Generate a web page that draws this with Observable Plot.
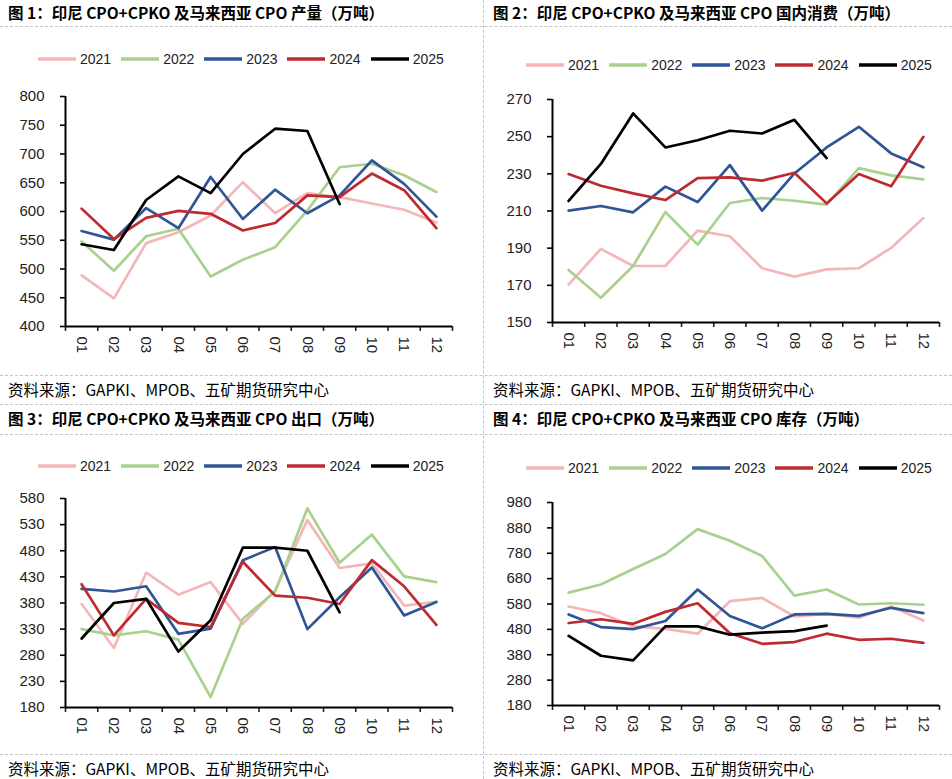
<!DOCTYPE html>
<html><head><meta charset="utf-8">
<script src="https://cdn.jsdelivr.net/npm/d3@7"></script>
<script src="https://cdn.jsdelivr.net/npm/@observablehq/plot@0.6"></script>
<style>
body{margin:0;background:#fff;}
#page{position:relative;width:952px;height:779px;overflow:hidden;font-family:"Liberation Sans",Arial,sans-serif;background:#fff;}
.hline{position:absolute;left:0;width:952px;border-top:1px dashed #c4c4c4;height:0;}
.vline{position:absolute;top:0;height:779px;border-left:1px dashed #c4c4c4;width:0;}
.title{position:absolute;font-family:"Noto Sans CJK SC";font-weight:700;font-size:15.5px;line-height:20px;white-space:nowrap;color:#000}
.source{position:absolute;font-family:"Noto Sans CJK SC";font-size:15.5px;line-height:20px;white-space:nowrap;color:#000}
.legend{position:absolute;display:flex;align-items:center;font-size:14px;line-height:20px;color:#222;white-space:nowrap}
.legend .item{display:flex;align-items:center;margin-right:10px}
.legend svg{margin-right:4px}
.chart{position:absolute}
</style></head>
<body>
<div id="page"></div>
<script>
const months = ["01","02","03","04","05","06","07","08","09","10","11","12"];
const years = ["2021","2022","2023","2024","2025"];
const colors = ["#F4B6B8","#A9D18E","#2F5597","#BE2A2F","#000000"];

// 图1 产量
const prod2021 = [489,449,545,564,593,651,597,632,625,614,603,581];
const prod2022 = [548,497,557,570,487,516,538,602,677,683,663,634];
const prod2023 = [566,551,606,571,660,587,638,597,628,689,648,591];
const prod2024 = [605,552,589,601,596,567,580,628,625,666,637,571];
const prod2025 = [543,533,620,661,632,700,744,740,613];
const prodTicks = [400,450,500,550,600,650,700,750,800];

// 图2 国内消费
const cons2021 = [170.4,189.6,180.4,180.4,199.4,196.4,179.2,174.7,178.6,179.2,190.1,206.2];
const cons2022 = [178.3,163.3,180.4,209.5,191.9,214.3,217,215.5,213.4,233.1,229.2,227];
const cons2023 = [210.2,212.7,209.3,223.1,214.8,234.7,210.2,230.2,244.2,255.3,241,233.5];
const cons2024 = [229.9,223.6,219.5,215.9,227.7,228.1,226.3,230.6,214.1,229.9,223.3,249.9];
const cons2025 = [215.4,235.3,262.5,244.2,248.1,253.2,251.7,259.1,238.5];
const consTicks = [150,170,190,210,230,250,270];

// 图3 出口
const exp2021 = [378,294,438,396,420,340,404,539,447,456,375,382];
const exp2022 = [330,318,326,310,200,350,402,561,457,511,431,420];
const exp2023 = [407,402,412,321,331,462,487,330,391,448,356,382];
const exp2024 = [416,318,388,342,334,459,394,390,378,462,412,338];
const exp2025 = [312,380,388,287,347,486,486,480,362];
const expTicks = [180,230,280,330,380,430,480,530,580];

// 图4 库存
const stk2021 = [570,544,492,482,463,591,604,531,541,526,570,515];
const stk2022 = [625,657,718,777,875,829,769,613,637,578,583,577];
const stk2023 = [539,489,481,513,637,533,484,539,541,533,565,544];
const stk2024 = [505,520,502,549,583,465,423,430,463,439,443,427];
const stk2025 = [454,376,358,492,492,459,467,473,495];
const stkTicks = [180,280,380,480,580,680,780,880,980];

const page = document.getElementById("page");
function el(cls, css, html) {
  const d = document.createElement("div");
  d.className = cls;
  Object.assign(d.style, css);
  if (html != null) d.innerHTML = html;
  page.appendChild(d);
  return d;
}

[26, 375, 404, 434, 754].forEach(y => el("hline", {top: y + "px"}));
el("vline", {left: "483px"});

function legend(left, cy) {
  const d = el("legend", {left: left + "px", top: (cy - 10) + "px"});
  years.forEach((yr, k) => {
    const it = document.createElement("div");
    it.className = "item";
    it.innerHTML = `<svg width="38" height="6"><line x1="0" x2="38" y1="3" y2="3" stroke="${colors[k]}" stroke-width="3.5"/></svg><span>${yr}</span>`;
    d.appendChild(it);
  });
}

function chart(o) {
  const data = [];
  years.forEach((yr, k) => o.series[k].forEach((v, i) => data.push({year: yr, i: i + 0.5, v})));
  const svg = Plot.plot({
    width: o.width, height: o.height,
    marginTop: o.mt, marginBottom: o.mb, marginLeft: o.ml, marginRight: o.mr,
    style: {fontFamily: '"Liberation Sans", Arial, sans-serif', fontSize: "15px", color: "#222", background: "transparent", overflow: "visible"},
    x: {domain: [0, 12]},
    y: {domain: [o.ticks[0], o.ticks[o.ticks.length - 1]]},
    color: {domain: years, range: colors},
    marks: [
      Plot.axisY({ticks: o.ticks, tickSize: 5, tickPadding: 16, label: null, strokeWidth: 1.6, color: "#000", fill: "#222"}),
      Plot.axisX({ticks: d3.range(0, 13), tickSize: 5, tickFormat: () => "", label: null, strokeWidth: 1.6}),
      Plot.axisX({ticks: months.map((m, i) => i + 0.5), tickSize: 0, tickPadding: o.xpad, tickRotate: 90, tickFormat: d => months[Math.floor(d)], label: null, fill: "#222"}),
      Plot.lineY(data, {x: "i", y: "v", stroke: "year", z: "year", strokeWidth: 2.7}),
      Plot.ruleX([0], {stroke: "#000", strokeWidth: 2}),
      Plot.ruleY([o.ticks[0]], {stroke: "#000", strokeWidth: 2})
    ]
  });
  const d = el("chart", {left: o.left + "px", top: o.top + "px"});
  d.appendChild(svg);
}

const panels = [
  {left: 0, title: "图 1：印尼 CPO+CPKO 及马来西亚 CPO 产量（万吨）", titleTop: 2, legendLeft: 38, legendY: 59,
   top: 80, width: 476, height: 290, mt: 16, mb: 44, ml: 65, mr: 24, xpad: 10,
   series: [prod2021, prod2022, prod2023, prod2024, prod2025], ticks: prodTicks, sourceTop: 379},
  {left: 483, title: "图 2：印尼 CPO+CPKO 及马来西亚 CPO 国内消费（万吨）", titleTop: 2, legendLeft: 526, legendY: 65,
   top: 80, width: 469, height: 290, mt: 19, mb: 48, ml: 69, mr: 13, xpad: 10,
   series: [cons2021, cons2022, cons2023, cons2024, cons2025], ticks: consTicks, sourceTop: 379},
  {left: 0, title: "图 3：印尼 CPO+CPKO 及马来西亚 CPO 出口（万吨）", titleTop: 408, legendLeft: 38, legendY: 466,
   top: 480, width: 476, height: 271, mt: 18, mb: 44, ml: 65, mr: 24, xpad: 10,
   series: [exp2021, exp2022, exp2023, exp2024, exp2025], ticks: expTicks, sourceTop: 758},
  {left: 483, title: "图 4：印尼 CPO+CPKO 及马来西亚 CPO 库存（万吨）", titleTop: 408, legendLeft: 526, legendY: 468,
   top: 480, width: 469, height: 269, mt: 22, mb: 44, ml: 69, mr: 13, xpad: 10,
   series: [stk2021, stk2022, stk2023, stk2024, stk2025], ticks: stkTicks, sourceTop: 758}
];

panels.forEach(p => {
  el("title", {left: (p.left + (p.left ? 10 : 8)) + "px", top: p.titleTop + "px"}, p.title);
  legend(p.legendLeft, p.legendY);
  chart(p);
  el("source", {left: (p.left + (p.left ? 10 : 8)) + "px", top: p.sourceTop + "px"}, "资料来源：GAPKI、MPOB、五矿期货研究中心");
});
</script>
</body></html>
